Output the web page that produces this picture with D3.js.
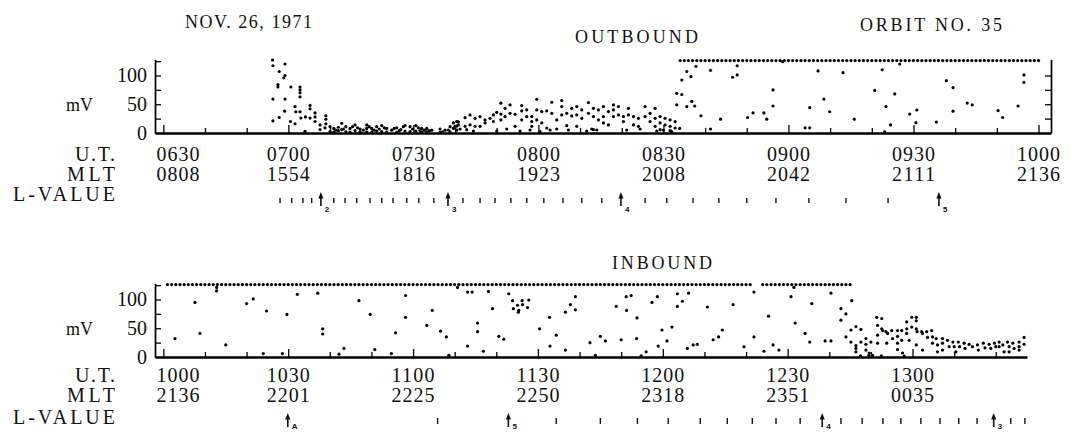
<!DOCTYPE html>
<html>
<head>
<meta charset="utf-8">
<script src="https://cdn.jsdelivr.net/npm/d3@7"></script>
<style>
  body { margin: 0; background: #fff; }
  text { font-family: "Liberation Serif", "DejaVu Serif", serif; fill: #111; }
</style>
</head>
<body>
<div id="chart"></div>
<script>
const width = 1072, height = 432;

// U.T. tick labels and the MLT under each of them
const utTop = ["0630", "0700", "0730", "0800", "0830", "0900", "0930", "1000"];
const mltTop = ["0808", "1554", "1816", "1923", "2008", "2042", "2111", "2136"];
const utBottom = ["1000", "1030", "1100", "1130", "1200", "1230", "1300"];
const mltBottom = ["2136", "2201", "2225", "2250", "2318", "2351", "0035"];

// saturated readings (top row of dots), one sample a minute, [start, end] in UT minutes
const saturation = 126;
const sampleStep = 1;
const satTop = [[514, 600]];
const satBottom = [[601, 741], [744, 765]];

// the other readings: [UT minutes, mV]
const outbound = [
  [416.2,127],[416.3,117],[419.2,120],[417.8,107],[419.2,100],[418.9,96],[417.5,84],[417.5,80],[420.6,80],
  [422.8,80],[422.8,75],[422.8,70],[422.8,63],[416.3,59],[419.2,59],[425.2,48],[425.2,42],[421.6,46],
  [419.1,38],[421.8,37],[416.3,21],[417.8,27],[420.5,20],[421.6,16],[422.8,37],[423.0,26],[424.1,28],
  [425.2,26],[426.4,35],[426.4,28],[426.4,20],[429.0,30],[429.0,24],[429.0,16],[424.0,3],
  [427.6,14],[427.6,6],[430.0,11],[430.0,2.5],[430.9,8],[430.9,1.5],[432.0,10],[432.0,4],[432.8,17],
  [432.8,6],[433.8,11],[433.8,2],[434.8,8],[434.8,1.5],[436.0,14],[436.0,4],[437.2,7],[437.2,2],
  [438.8,14],[438.8,8],[438.8,2],[440.0,8],[440.0,1],[441.2,11],[441.2,3.5],[442.4,13],[442.4,2.5],
  [443.6,8],[443.6,2],[444.8,5],[446.0,9],[446.0,1],[447.0,6],[448.0,13],[448.0,3.5],[449.2,11],
  [449.2,2.5],[450.6,13],[450.6,3.5],[452.0,8],[452.0,1],[453.2,8],[453.2,2],[454.4,5],[456.4,7],
  [456.4,1],[457.6,5],[458.8,11],[458.8,2],[460.4,20],[460.4,12],[460.4,5],
  [428.8,9],[431.4,5],[433.2,7],[435.4,11],[436.6,9],[438.0,5],[439.4,11],[440.6,5],[441.8,7],
  [443.0,9],[445.4,8],[446.6,4],[447.6,11],[449.8,7],[451.2,9],[451.6,4],[452.6,5],[453.8,4],
  [457.0,2],[459.6,8],
  [459.6,17.5],[460.0,11.6],[460.8,19.5],[460.8,14],[462.4,26.7],[462.4,11.6],[462.8,5.8],[463.6,31.4],
  [463.6,14],[464.8,25.6],[464.8,11.6],[466.0,28.5],[466.0,11.6],[467.2,22.7],[467.2,17.5],[468.4,25.6],
  [469.2,31.4],[469.2,19.8],[470.0,36],[471.0,51.8],[471.0,33],[471.0,22.7],[472.0,43],[472.0,28.5],
  [473.2,48.9],[473.2,34.3],[474.4,32.6],[474.4,11.6],[476.0,47.7],[476.0,38.4],[476.0,22.7],[477.2,40.1],
  [477.2,28.5],[478.4,28.5],[478.4,19.8],[478.4,11.6],[479.6,58.7],[479.6,40.1],[479.6,22.7],[480.8,37.2],
  [480.8,17.5],[482.0,38.4],[482.0,8.7],[483.2,53.5],[483.2,34.3],[484.4,22.7],[485.6,56.4],[485.6,45.9],
  [485.6,31.4],[486.8,34.3],[486.8,12.8],[488.0,43],[488.0,29.7],[489.2,45.9],[489.2,31.4],[489.2,11.6],
  [490.4,40.1],[490.4,25.6],[492.0,52.9],[492.0,34.3],[493.2,43],[493.2,28.5],[493.2,5.8],[494.4,40.1],
  [494.4,22.7],[495.6,45.9],[495.6,28.5],[495.6,17.5],[496.8,37.2],[496.8,14],[498.0,48.9],[498.0,40.1],
  [498.0,28.5],[499.2,45.9],[499.2,31.4],[500.4,28.5],[500.4,19.8],[501.6,43],[501.6,31.4],[502.8,28.5],
  [502.8,14],[504.0,25.6],[504.0,11.6],[505.6,45.9],[505.6,28.5],[506.8,34.3],[506.8,19.8],[508.0,43],
  [508.0,25.6],[508.0,11.6],[509.2,28.5],[509.2,17.5],[509.2,5.8],[510.4,25.6],[510.4,14],[511.6,22.7],
  [511.6,11.6],[511.6,4],[512.8,19.8],[512.8,8.7],
  [458.4,5.2],[461.2,7],[464.4,3.5],[470.0,3.5],[472.4,7],[475.6,3.5],[478.0,5.2],[480.4,2.3],[482.8,5.2],
  [484.4,7],[487.2,5.2],[491.6,3.5],[492.8,7],[494.0,5.2],[501.2,5.2],[504.4,7],[508.4,3.5],[510.0,5.2],
  [512.0,2.3],
  [515.6,107],[516.6,98],[517.8,116],[514.4,92],[514.4,67],[515.6,46],[516.8,55],[517.5,47],[519.0,30],
  [513.9,8],[513.2,69],[513.2,49],[521.3,109],[521.3,7],[523.7,24],[526.6,97],[527.7,101],[527.7,117],
  [530.2,27],[531.5,35],[534.1,35],[534.8,24],[536.3,75],[536.3,47],[538.6,124],[544.0,9],[545.1,9],
  [545.1,44],[547.1,108],[548.5,59],[549.9,37],[553.1,105],[555.8,24],[560.7,74],[562.5,110],[563.4,46],
  [565.5,68],[564.5,14],[566.7,120],[563.1,2],[569.1,33],[570.8,40],[570.6,18],[575.5,19],[577.9,91],
  [579.5,79],[579.5,38],[582.9,52],[584.1,49],[590.3,39],[591.4,27],[595.1,47],[596.5,101],[596.5,88]
];

const inbound = [
  [602.8,32],[607.6,95],[608.8,41],[612.8,121],[612.8,115],[615.0,21],[620.0,93],[621.6,101],[624.0,6],
  [624.8,80],[628.6,6],[629.7,74],[632.2,109],[637.1,111],[638.3,49],[638.3,40],[642.2,5],[643.4,15],
  [647.0,98],[649.7,74],[650.8,13],[654.8,6],[655.8,42],[658.2,107],[658.2,69],[663.3,55],[664.6,81],
  [666.6,45],[668.0,35],[668.6,3],[670.7,121],[673.1,113],[674.2,113],[673.1,19],[675.5,59],[675.5,44],
  [676.9,10],[678.1,114],[679.1,84],[680.6,36],[681.8,31],[683.0,110],[683.9,98],[685.1,90],[686.2,98],
  [687.8,99],[684.1,84],[685.3,78],[686.3,91],[687.5,86],[685.4,81],[690.4,49],[692.8,69],[692.9,19],
  [694.4,38],[696.6,78],[696.6,12],[697.8,91],[699.0,105],[699.0,82],[702.5,25],[703.8,3],[705.0,36],
  [706.2,28],[708.8,88],[710.0,30],[711.2,105],[712.4,107],[711.3,81],[713.8,68],[713.7,32],[714.8,2],
  [716.0,9],[717.4,95],[718.7,105],[718.9,19],[719.8,47],[721.0,28],[722.2,52],[723.5,110],[724.7,97],
  [723.5,88],[726.2,111],[725.9,15],[727.3,21],[728.3,22],[730.7,87],[732.1,30],[733.4,35],[734.3,47],
  [736.9,91],[739.5,18],[741.9,113],[741.9,35],[744.3,10],[745.4,71],[746.5,21],[747.9,12],[750.8,105],
  [751.5,121],[751.8,59],[754.2,41],[755.3,26],[755.8,93],[759.0,28],[760.4,28],[760.4,111],[762.8,84],
  [764.0,75],[762.8,64],[765.4,98],[764.0,35],[765.2,47],[766.4,53],[767.6,48],
  [765.2,26],[766.4,20],[766.4,15],[766.4,9],[767.6,26],[768.8,32],[768.8,22],[768.8,12],[769.6,7],
  [770.0,26],[770.4,3],[771.4,69],[772.6,67],[771.6,55],[771.6,38],[771.6,24],[772.6,49],[772.8,46],
  [773.6,44],[774.0,41],[775.0,46],[773.8,24],[775.2,32],[776.4,46],[776.4,36],[776.4,24],[776.4,13],
  [777.4,46],[777.4,29],[777.6,7],[778.6,61],[778.6,49],[778.6,41],[779.2,29],[779.8,69],[779.8,52],
  [780.9,69],[780.9,63],[780.9,49],[781.1,44],[780.9,21],[782.2,44],[782.4,41],[782.4,12],[783.4,44],
  [783.6,34],[784.6,46],[784.8,35],[784.8,24],[785.7,32],[786.0,21],[786.0,9],[787.2,32],[787.2,24],
  [787.2,12],[788.4,29],[788.8,18],[789.7,26],[790.0,18],[790.4,9],[791.0,26],[791.3,18],[792.4,24],
  [792.6,15],[793.6,22],[794.4,18],[795.6,21],[795.8,12],[797.0,24],[797.4,16],[798.4,22],[798.8,15],
  [799.7,24],[800.0,18],[800.8,26],[800.8,18],[801.7,21],[802.0,9],[802.8,26],[803.2,18],[803.2,9],
  [804.1,24],[804.4,15],[805.6,26],[805.6,18],[805.6,12],[806.8,34],[806.8,22],
  [767.5,2],[769.5,3],[772.5,2],[778.0,1.5]
];

// L-VALUE row: UT minutes of the 0.1 L marks, and the labelled arrows
const lTicksTop = [418.0,420.8,423.5,425.6,430.9,433.6,436.4,439.6,442.4,445.1,448.4,451.3,454.9,
  461.9,466.0,469.6,473.4,477.2,481.3,485.9,490.4,495.2,505.6,510.8,517.1,523.3,530.0,537.0,544.9,553.8,563.9];
const lArrowsTop = [[427.8, "2"], [458.3, "3"], [499.8, "4"], [576.1, "5"]];
const lTicksBottom = [665.9,694.4,705.0,713.9,721.3,729.0,735.5,741.5,747.2,753.0,762.8,767.9,772.9,
  777.2,782.0,786.6,791.1,795.5,803.6,807.0];
const lArrowsBottom = [[629.9, "A"], [682.9, "5"], [758.3, "4"], [799.5, "3"]];

const svg = d3.select("#chart").append("svg")
  .attr("width", width)
  .attr("height", height);

const toMin = s => +s.slice(0, 2) * 60 + +s.slice(2);
const axisX = 155;

function drawPanel(p) {
  const x = d3.scaleLinear().domain(p.domain).range([axisX, p.right]);
  const y = d3.scaleLinear().domain([0, 128]).range([p.base, p.base - 128 * 0.575]);
  const g = svg.append("g");

  // left axis, ticks pointing in
  const ya = g.append("g").attr("transform", `translate(${axisX},0)`)
    .call(d3.axisLeft(y).tickValues([0, 25, 50, 75, 100, 125])
      .tickSizeInner(-6).tickSizeOuter(0).tickPadding(8)
      .tickFormat(d => d % 50 === 0 ? d : ""));
  ya.attr("font-family", null).attr("font-size", null);
  ya.selectAll("text").attr("font-size", 20);
  ya.selectAll("line").attr("stroke-width", 1.3);
  ya.select(".domain").attr("stroke-width", 1.7);

  if (p.rightAxis) {
    const ra = g.append("g").attr("transform", `translate(${p.right},0)`)
      .call(d3.axisRight(y).tickValues([25, 50, 75, 100]).tickSizeInner(-6).tickSizeOuter(0).tickFormat(""));
    ra.selectAll("line").attr("stroke-width", 1.3);
    ra.select(".domain").attr("stroke-width", 1.7);
  }

  // time axis
  const xa = g.append("g").attr("transform", `translate(0,${p.base})`)
    .call(d3.axisBottom(x).tickValues(p.ticks).tickSizeInner(-5).tickSizeOuter(0).tickFormat(""));
  xa.selectAll(".tick line").attr("y2", d => d % 30 === 0 ? -8 : -5).attr("stroke-width", 1.3);
  xa.select(".domain").attr("stroke-width", 2.4);

  g.selectAll("text.ut").data(p.ut).join("text").attr("class", "ut")
    .attr("x", s => Math.max(x(toMin(s)), axisX + 23))
    .attr("y", p.utY).attr("text-anchor", "middle").attr("font-size", 20)
    .attr("textLength", 43).attr("lengthAdjust", "spacing")
    .text(s => s);
  g.selectAll("text.mlt").data(p.mlt).join("text").attr("class", "mlt")
    .attr("x", (s, i) => Math.max(x(toMin(p.ut[i])), axisX + 23))
    .attr("y", p.mltY).attr("text-anchor", "middle").attr("font-size", 20)
    .attr("textLength", 43).attr("lengthAdjust", "spacing")
    .text(s => s);

  const rows = [["U.T.", p.utY, 40], ["MLT", p.mltY, 48], ["L-VALUE", p.lY, 102]];
  g.selectAll("text.row").data(rows).join("text").attr("class", "row")
    .attr("x", 115).attr("y", d => d[1]).attr("text-anchor", "end").attr("font-size", 20)
    .attr("textLength", d => d[2]).attr("lengthAdjust", "spacing")
    .text(d => d[0]);

  g.append("text").attr("x", 66).attr("y", p.mvY).attr("font-size", 18).text("mV");

  // readings
  const sat = p.sat.flatMap(([a, b]) => d3.range(a, b + 0.01, sampleStep).map(t => [t, saturation]));
  g.selectAll("circle.pt").data(sat.concat(p.points)).join("circle").attr("class", "pt")
    .attr("cx", d => x(d[0])).attr("cy", d => y(d[1])).attr("r", 1.6)
    .attr("fill", "#000");

  // L-value marks
  g.selectAll("line.lt").data(p.lTicks).join("line").attr("class", "lt")
    .attr("x1", d => x(d)).attr("x2", d => x(d))
    .attr("y1", p.lMark - p.lTickH).attr("y2", p.lMark)
    .attr("stroke", "#111").attr("stroke-width", 1.4);
  const ar = g.selectAll("g.arrow").data(p.lArrows).join("g").attr("class", "arrow")
    .attr("transform", d => `translate(${x(d[0])},${p.lMark})`);
  ar.append("line").attr("y1", 3).attr("y2", -8).attr("stroke", "#111").attr("stroke-width", 1.6);
  ar.append("path").attr("d", "M0,-11L-2.6,-4.5L2.6,-4.5Z").attr("fill", "#111");
  ar.append("text").attr("x", 4).attr("y", p.subY).attr("font-size", 8)
    .style("font-family", "'Liberation Sans', Arial, sans-serif").attr("font-weight", "bold")
    .text(d => d[1]);

  return g;
}

drawPanel({
  domain: [388, 603], right: 1051, base: 133, rightAxis: true,
  ticks: d3.range(390, 601, 10), ut: utTop, mlt: mltTop,
  utY: 161, mltY: 181, lY: 201, mvY: 110.5,
  sat: satTop, points: outbound,
  lTicks: lTicksTop, lArrows: lArrowsTop, lMark: 203, lTickH: 5, subY: 9
});

drawPanel({
  domain: [598, 807.5], right: 1027, base: 357, rightAxis: false,
  ticks: d3.range(600, 801, 10), ut: utBottom, mlt: mltBottom,
  utY: 382, mltY: 402, lY: 424, mvY: 335,
  sat: satBottom, points: inbound,
  lTicks: lTicksBottom, lArrows: lArrowsBottom, lMark: 424, lTickH: 6, subY: 5
});

// headings
const titles = [
  ["NOV. 26, 1971", 185, 27.5, 127],
  ["OUTBOUND", 575, 43, 123],
  ["ORBIT  NO. 35", 860, 30.5, 142],
  ["INBOUND", 612, 269, 100]
];
svg.selectAll("text.title").data(titles).join("text").attr("class", "title")
  .attr("x", d => d[1]).attr("y", d => d[2]).attr("font-size", 18)
  .attr("textLength", d => d[3]).attr("lengthAdjust", "spacing")
  .text(d => d[0]);
</script>
</body>
</html>
